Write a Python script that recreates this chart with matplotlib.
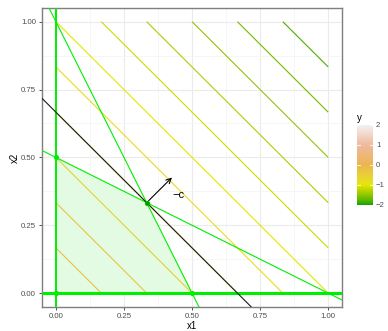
import numpy as np
import matplotlib.pyplot as plt
from matplotlib.colors import ListedColormap, Normalize, to_rgb
from matplotlib.cm import ScalarMappable

plt.rcParams['font.family'] = ['Liberation Sans', 'DejaVu Sans']

# LP: min c.x  s.t.  A x <= b, x >= 0
c = np.array([-1.0, -1.0])
A = np.array([[2.0, 1.0], [1.0, 2.0]])
b = np.array([1.0, 1.0])
x_opt = np.array([1 / 3, 1 / 3])
vertices_x1 = [0.0, 0.5, 1 / 3, 0.0]
vertices_x2 = [0.0, 0.0, 1 / 3, 0.5]
contour_levels = [-11 / 6, -5 / 3, -3 / 2, -4 / 3, -7 / 6, -1, -5 / 6, -2 / 3, -1 / 2, -1 / 3, -1 / 6]
y_ticks = [-2, -1, 0, 1, 2]
terrain = ["#00A600", "#E6E600", "#EAB64E", "#EEB99F", "#F2F2F2"]

M = np.array([[0.4124, 0.3576, 0.1805], [0.2126, 0.7152, 0.0722], [0.0193, 0.1192, 0.9505]])
WP = np.array([0.95047, 1.0, 1.08883])


def to_lab(rgb):
    rgb = np.asarray(rgb)
    lin = np.where(rgb <= 0.04045, rgb / 12.92, ((rgb + 0.055) / 1.055) ** 2.4)
    t = (M @ lin) / WP
    f = np.where(t > (6 / 29) ** 3, np.cbrt(t), t / (3 * (6 / 29) ** 2) + 4 / 29)
    return np.array([116 * f[1] - 16, 500 * (f[0] - f[1]), 200 * (f[1] - f[2])])


def from_lab(lab):
    fy = (lab[0] + 16) / 116
    f = np.array([fy + lab[1] / 500, fy, fy - lab[2] / 200])
    t = np.where(f > 6 / 29, f ** 3, 3 * (6 / 29) ** 2 * (f - 4 / 29)) * WP
    lin = np.linalg.solve(M, t)
    rgb = np.where(lin <= 0.0031308, 12.92 * lin, 1.055 * np.clip(lin, 0, None) ** (1 / 2.4) - 0.055)
    return np.clip(rgb, 0, 1)


# ggplot-style gradient: interpolate in Lab space
labs = [to_lab(to_rgb(h)) for h in terrain]
cols = []
for u in np.linspace(0, len(terrain) - 1, 256):
    i = min(int(u), len(terrain) - 2)
    w = u - i
    cols.append(from_lab((1 - w) * labs[i] + w * labs[i + 1]))
cmap = ListedColormap(cols)
norm = Normalize(-2, 2)

fig = plt.figure(figsize=(3.88, 3.31), dpi=100)
ax = fig.add_axes([0.109, 0.0734, 0.772, 0.902])

# feasible region
ax.fill(vertices_x1, vertices_x2, color="#E3FBE3", zorder=1, lw=0)

# objective contours
g = np.linspace(0, 1, 401)
G1, G2 = np.meshgrid(g, g)
Y = c[0] * G1 + c[1] * G2
ax.contour(G1, G2, Y, levels=contour_levels, cmap=cmap, norm=norm, linewidths=0.8, zorder=2)

# constraints
green = "#00EE00"
ax.axvline(0, color=green, lw=1.4, zorder=3)
ax.axhline(0, color=green, lw=2.2, zorder=3)
for a, bb in zip(A, b):
    ax.axline((0, bb / a[1]), (bb / a[0], 0), color=green, lw=0.8, zorder=3)

# optimal objective line
z_opt = c @ x_opt
ax.axline((0, z_opt / c[1]), (z_opt / c[0], 0), color="#1a1a1a", lw=0.8, zorder=4)

ax.scatter(vertices_x1, vertices_x2, s=14, color=green, zorder=5, lw=0)
ax.scatter([x_opt[0]], [x_opt[1]], s=10, color="#009900", zorder=6, lw=0)

# -c arrow
tip = x_opt - 0.1 * c
ax.annotate("", xy=tip, xytext=x_opt,
            arrowprops=dict(arrowstyle="->", color="black", lw=0.8, mutation_scale=9), zorder=6)
ax.text(tip[0] - 0.005, x_opt[1] + 0.03, "\u2212c", fontsize=8, ha="left", va="center")

ax.set_xlim(-0.05, 1.05)
ax.set_ylim(-0.05, 1.05)
ticks = [0, 0.25, 0.5, 0.75, 1.0]
ax.set_xticks(ticks)
ax.set_yticks(ticks)
ax.set_xticklabels(["0.00", "0.25", "0.50", "0.75", "1.00"])
ax.set_yticklabels(["0.00", "0.25", "0.50", "0.75", "1.00"])
ax.set_xticks([0.125, 0.375, 0.625, 0.875], minor=True)
ax.set_yticks([0.125, 0.375, 0.625, 0.875], minor=True)
ax.grid(which="major", color="#EBEBEB", lw=0.8, zorder=0)
ax.grid(which="minor", color="#F3F3F3", lw=0.5, zorder=0)
ax.set_axisbelow(True)
ax.tick_params(which="major", length=2.5, width=0.6, color="#333333", labelsize=5.6,
               labelcolor="#4D4D4D", pad=2)
ax.tick_params(which="minor", length=0)
for s in ax.spines.values():
    s.set_color("#7F7F7F")
    s.set_linewidth(1.0)
ax.set_xlabel("x1", fontsize=7, labelpad=1)
ax.set_ylabel("x2", fontsize=7, labelpad=1)

# colorbar legend
cax = fig.add_axes([0.919, 0.381, 0.043, 0.242])
cb = fig.colorbar(ScalarMappable(norm=norm, cmap=cmap), cax=cax, ticks=y_ticks)
cb.outline.set_visible(False)
cax.tick_params(length=0, labelsize=5.6, labelcolor="#4D4D4D", pad=2)
cax.set_yticklabels(["\u22122", "\u22121", "0", "1", "2"])
for t in y_ticks:
    cax.plot([0, 0.2], [t, t], color="white", lw=0.6, transform=cax.get_yaxis_transform())
    cax.plot([0.8, 1], [t, t], color="white", lw=0.6, transform=cax.get_yaxis_transform())
cax.set_title("y", fontsize=7, loc="left", pad=3)

fig.savefig("out.png", dpi=100)
